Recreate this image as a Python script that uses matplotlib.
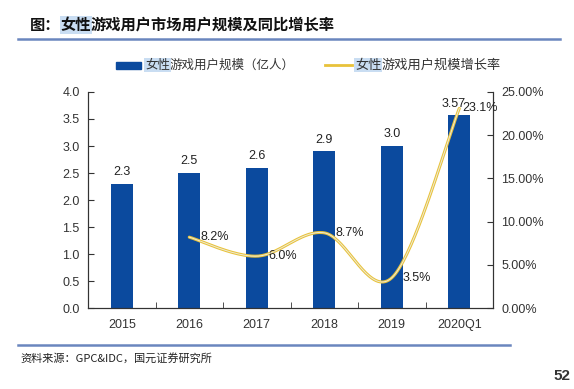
import numpy as np
import matplotlib.pyplot as plt
from matplotlib.lines import Line2D
from matplotlib.patches import Rectangle

plt.rcParams['font.family'] = ['Liberation Sans', 'Noto Sans CJK SC', 'DejaVu Sans']
CJK = ['Noto Sans CJK SC', 'DejaVu Sans']

years = ['2015', '2016', '2017', '2018', '2019', '2020Q1']
users = [2.3, 2.5, 2.6, 2.9, 3.0, 3.57]
user_labels = ['2.3', '2.5', '2.6', '2.9', '3.0', '3.57']
growth = [8.2, 6.0, 8.7, 3.5, 23.1]   # 2016..2020Q1, %
growth_labels = ['8.2%', '6.0%', '8.7%', '3.5%', '23.1%']

bar_color = '#0B4A9E'
line_color = '#E8C23A'
hl_color = '#C9DDF2'


def smooth(xs, ys, n=40):
    # Excel-like smoothed line (Bezier segments through the points)
    xs = np.asarray(xs, float)
    ys = np.asarray(ys, float)
    px = np.concatenate([[xs[0]], xs, [xs[-1]]])
    py = np.concatenate([[ys[0]], ys, [ys[-1]]])
    outx, outy = [], []
    t = np.linspace(0, 1, n)
    for i in range(1, len(px) - 2):
        p0, p1, p2, p3 = (np.array([px[j], py[j]]) for j in (i - 1, i, i + 1, i + 2))
        c1 = p1 + (p2 - p0) / 6
        c2 = p2 - (p3 - p1) / 6
        b = ((1 - t) ** 3)[:, None] * p1 + (3 * (1 - t) ** 2 * t)[:, None] * c1 \
            + (3 * (1 - t) * t ** 2)[:, None] * c2 + (t ** 3)[:, None] * p2
        outx.extend(b[:, 0])
        outy.extend(b[:, 1])
    return np.array(outx), np.array(outy)


fig = plt.figure(figsize=(5.74, 3.89), dpi=100)
ax = fig.add_axes([0.1533, 0.2082, 0.7057, 0.5553])
ax2 = ax.twinx()

x = np.arange(len(years))
ax.bar(x, users, width=0.33, color=bar_color, zorder=2)
for i, (xi, v, lab) in enumerate(zip(x, users, user_labels)):
    dx = -4 if i == len(x) - 1 else 0
    ax.annotate(lab, (xi, v), xytext=(dx, 4), textcoords='offset points',
                ha='center', va='bottom', fontsize=9, color='#222222')

ax.set_xlim(-0.5, len(years) - 0.5)
ax.set_ylim(0, 4.0)
ax.set_yticks(np.arange(0, 4.01, 0.5))
ax.set_yticklabels([f'{v:.1f}' for v in np.arange(0, 4.01, 0.5)])
ax.set_xticks(x)
ax.set_xticklabels(years)
ax.set_xticks(np.arange(-0.5, len(years)), minor=True)
ax.tick_params(axis='x', which='major', length=0, pad=8, labelsize=9, colors='#333333')
ax.tick_params(axis='x', which='minor', direction='in', length=4, color='#333333')
ax.tick_params(axis='y', direction='in', length=4, pad=6, labelsize=9, colors='#333333')

gx = x[1:]
sx, sy = smooth(gx, growth)
ax2.plot(sx, sy, color=line_color, lw=2.2, solid_capstyle='round', zorder=3)
ax2.plot(sx, sy, color='#EEEBD8', lw=0.7, zorder=4)
for i, (xi, v, lab) in enumerate(zip(gx, growth, growth_labels)):
    off = (2, 0) if i == len(gx) - 1 else (8, 0)
    ax2.annotate(lab, (xi, v), xytext=off, textcoords='offset points',
                 ha='left', va='center', fontsize=9, color='#222222')
ax2.set_ylim(0, 25)
ax2.set_yticks(np.arange(0, 25.01, 5))
ax2.set_yticklabels([f'{v:.2f}%' for v in np.arange(0, 25.01, 5)])
ax2.tick_params(axis='y', direction='in', length=4, pad=6, labelsize=9, colors='#333333')

for a in (ax, ax2):
    a.spines['top'].set_visible(False)
    for s in ('left', 'right', 'bottom'):
        a.spines[s].set_color('#333333')
        a.spines[s].set_linewidth(0.8)

hl_box = dict(boxstyle='square,pad=0.05', fc=hl_color, ec='none')

# title
t_pre = fig.text(30 / 574, 1 - 30 / 389, '图：', fontsize=11, fontweight='bold',
                 family=CJK, color='#111111')
a1 = ax.annotate('女性', xy=(1, 0), xycoords=t_pre, fontsize=11, fontweight='bold',
                 family=CJK, color='#111111', va='bottom', ha='left', bbox=hl_box,
                 annotation_clip=False)
ax.annotate('游戏用户市场用户规模及同比增长率', xy=(1, 0), xycoords=a1, fontsize=11,
            fontweight='bold', family=CJK, color='#111111', va='bottom', ha='left',
            annotation_clip=False)
fig.add_artist(Line2D([18 / 574, 560 / 574], [1 - 39 / 389] * 2, color='#6A86BE', lw=1.8))

# legend
ly = 1 - 65 / 389
fig.add_artist(Rectangle((116 / 574, ly - 3.5 / 389), 25 / 574, 7 / 389, color=bar_color))
l1 = fig.text(145 / 574, ly, '女性', fontsize=9, family=CJK, color='#333333', va='center',
              bbox=hl_box)
ax.annotate('游戏用户规模（亿人）', xy=(1, 0.5), xycoords=l1, fontsize=9, family=CJK,
            color='#333333', va='center', ha='left', annotation_clip=False)
fig.add_artist(Line2D([325 / 574, 352 / 574], [ly, ly], color=line_color, lw=2))
l2 = fig.text(355 / 574, ly, '女性', fontsize=9.5, family=CJK, color='#333333', va='center',
              bbox=hl_box)
ax.annotate('游戏用户规模增长率', xy=(1, 0.5), xycoords=l2, fontsize=9.5, family=CJK,
            color='#333333', va='center', ha='left', annotation_clip=False)

# footer
fig.add_artist(Line2D([18 / 574, 510 / 574], [1 - 345 / 389] * 2, color='#6A86BE', lw=1.8))
fig.text(20 / 574, 1 - 358 / 389, '资料来源：GPC&IDC，国元证券研究所', fontsize=8,
         family=CJK, color='#222222', va='center')
fig.text(570 / 574, 1 - 376 / 389, '52', fontsize=11, fontweight='bold', color='#333333',
         ha='right', va='center')

fig.savefig('out.png', dpi=100)
